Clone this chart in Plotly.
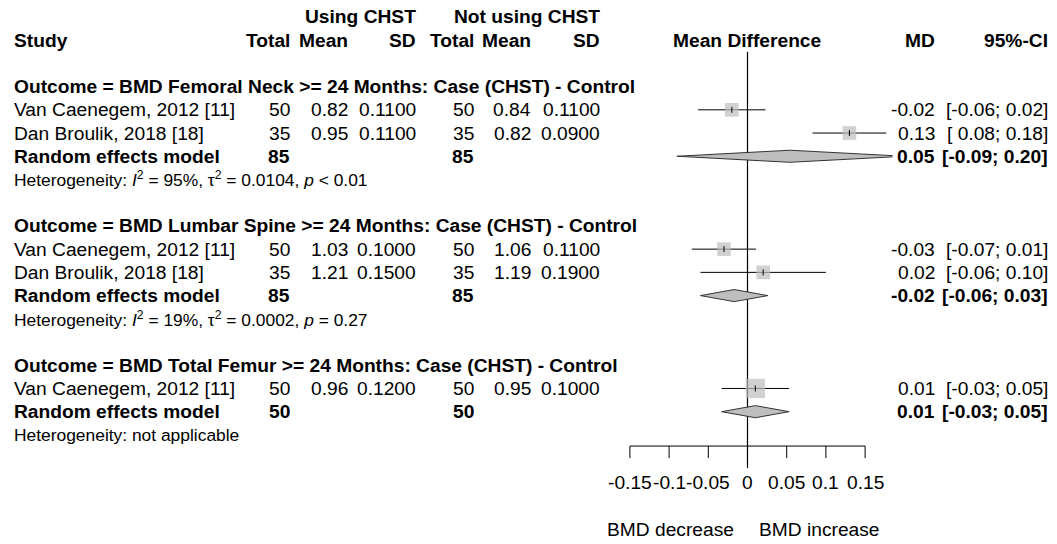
import math
import plotly.graph_objects as go

# ---------------- data ----------------
outcomes = ["BMD Femoral Neck", "BMD Lumbar Spine", "BMD Total Femur"]
study = ["Van Caenegem, 2012 [11]", "Dan Broulik, 2018 [18]",
         "Van Caenegem, 2012 [11]", "Dan Broulik, 2018 [18]",
         "Van Caenegem, 2012 [11]"]
group = [0, 0, 1, 1, 2]
n_e = [50, 35, 50, 35, 50]
mean_e = [0.82, 0.95, 1.03, 1.21, 0.96]
sd_e = [0.11, 0.11, 0.10, 0.15, 0.12]
n_c = [50, 35, 50, 35, 50]
mean_c = [0.84, 0.82, 1.06, 1.19, 0.95]
sd_c = [0.11, 0.09, 0.11, 0.19, 0.10]
md = [-0.02, 0.13, -0.03, 0.02, 0.01]
ci_lo = [-0.063, 0.083, -0.071, -0.060, -0.033]
ci_hi = [0.023, 0.177, 0.011, 0.100, 0.053]
weight = [50, 50, 50, 50, 100]

pooled_md = [0.054, -0.017, 0.01]
pooled_lo = [-0.090, -0.060, -0.033]
pooled_hi = [0.200, 0.026, 0.053]
pooled_ne = [85, 85, 50]
pooled_nc = [85, 85, 50]
het_I2 = [95, 19, None]
het_tau2 = [0.0104, 0.0002, None]
het_p = ["&lt; 0.01", "= 0.27", None]

tick_vals = [-0.15, -0.1, -0.05, 0, 0.05, 0.1, 0.15]
tick_text = ["-0.15", "-0.1", "-0.05", "0", "0.05", "0.1", "0.15"]
label_left = "BMD decrease"
label_right = "BMD increase"

# ---------------- layout geometry ----------------
W, H = 1057, 544
Y0, DY = 86.6, 23.22          # px of row 0, px per row
X0, XS = 747.5, 784.0         # px of MD=0, px per unit
XR = [-0.19, 0.185]
FONT = "Liberation Sans, Arial, sans-serif"
FS, FS_HET = 19.2, 17.4

# assign rows
hdr_row, st_row, pool_row, het_row = [], [None] * len(study), [], []
r = 0
for g in range(len(outcomes)):
    hdr_row.append(r); r += 1
    for i in range(len(study)):
        if group[i] == g:
            st_row[i] = r; r += 1
    pool_row.append(r); r += 1
    het_row.append(r); r += 1
    r += 1
last_row = het_row[-1]
axis_row = last_row + 0.48
tick_end = axis_row + 0.52
zero_top, zero_bot = -1.5, axis_row + 0.95
ticklab_row = axis_row + 1.57
lab_row = axis_row + 3.58

fig = go.Figure()
annotations = []


def ann(text, xpx, row, anchor="left", size=FS, xref="paper", xval=None):
    annotations.append(dict(
        text=text, x=(xpx / W) if xref == "paper" else xval, xref=xref,
        y=row, yref="y", xanchor=anchor, yanchor="middle", showarrow=False,
        font=dict(family=FONT, size=size, color="black")))


def b(t):
    return "<b>" + t + "</b>"


# column right edges (px)
C_STUDY = 12
C_TE, C_ME, C_SE = 292, 350, 418
C_TC, C_MC, C_SC = 476, 533, 602
C_MD, C_CI = 937, 1050

# headers
ann(b("Using CHST"), C_SE, -3, "right")
ann(b("Not using CHST"), C_SC, -3, "right")
ann(b("Study"), C_STUDY, -2, "left")
for txt, c in [("Total", C_TE), ("Mean", C_ME), ("SD", C_SE),
               ("Total", C_TC), ("Mean", C_MC), ("SD", C_SC),
               ("MD", C_MD), ("95%-CI", C_CI)]:
    ann(b(txt), c, -2, "right")
ann(b("Mean Difference"), X0, -2, "center")


def ci_txt(lo, hi):
    return "[%5.2f; %.2f]" % (lo, hi)


for g, name in enumerate(outcomes):
    ann(b("Outcome = %s >= 24 Months: Case (CHST) - Control" % name), C_STUDY, hdr_row[g])
    ann(b("Random effects model"), C_STUDY, pool_row[g])
    ann(b(str(pooled_ne[g])), C_TE, pool_row[g], "right")
    ann(b(str(pooled_nc[g])), C_TC, pool_row[g], "right")
    ann(b("%.2f" % pooled_md[g]), C_MD, pool_row[g], "right")
    ann(b(ci_txt(pooled_lo[g], pooled_hi[g])), C_CI, pool_row[g], "right")
    if het_I2[g] is None:
        ht = "Heterogeneity: not applicable"
    else:
        ht = ("Heterogeneity: <i>I</i><sup>2</sup> = %d%%, \u03c4<sup>2</sup> = %.4f, <i>p</i> %s"
              % (het_I2[g], het_tau2[g], het_p[g]))
    ann(ht, C_STUDY, het_row[g], "left", FS_HET)

for i in range(len(study)):
    rr = st_row[i]
    ann(study[i], C_STUDY, rr)
    ann(str(n_e[i]), C_TE, rr, "right")
    ann("%.2f" % mean_e[i], C_ME, rr, "right")
    ann("%.4f" % sd_e[i], C_SE, rr, "right")
    ann(str(n_c[i]), C_TC, rr, "right")
    ann("%.2f" % mean_c[i], C_MC, rr, "right")
    ann("%.4f" % sd_c[i], C_SC, rr, "right")
    ann("%.2f" % md[i], C_MD, rr, "right")
    ann(ci_txt(ci_lo[i], ci_hi[i]), C_CI, rr, "right")

# ---------------- forest marks ----------------
common = dict(hoverinfo="skip", showlegend=False)
# reference line at 0
fig.add_trace(go.Scatter(x=[0, 0], y=[zero_top, zero_bot], mode="lines",
                         line=dict(color="black", width=1.2), **common))
# CI lines
xs, ys = [], []
for i in range(len(study)):
    xs += [ci_lo[i], ci_hi[i], None]
    ys += [st_row[i], st_row[i], None]
fig.add_trace(go.Scatter(x=xs, y=ys, mode="lines",
                         line=dict(color="black", width=1), **common))
# squares
fig.add_trace(go.Scatter(
    x=md, y=st_row, mode="markers",
    marker=dict(symbol="square", color="#BEBEBE",
                size=[19.3 * math.sqrt(w / 100) for w in weight], line=dict(width=0)),
    cliponaxis=False, **common))
# inner estimate ticks
xs, ys = [], []
for i in range(len(study)):
    xs += [md[i], md[i], None]
    ys += [st_row[i] - 0.13, st_row[i] + 0.13, None]
fig.add_trace(go.Scatter(x=xs, y=ys, mode="lines",
                         line=dict(color="black", width=1), **common))
# diamonds
for g in range(len(outcomes)):
    rr = pool_row[g]
    h = 0.26
    fig.add_trace(go.Scatter(
        x=[pooled_lo[g], pooled_md[g], pooled_hi[g], pooled_md[g], pooled_lo[g]],
        y=[rr, rr - h, rr, rr + h, rr], mode="lines", fill="toself",
        fillcolor="#BEBEBE", line=dict(color="#333333", width=1), **common))
# axis line and ticks
xs, ys = [tick_vals[0], tick_vals[-1], None], [axis_row, axis_row, None]
for v in tick_vals:
    xs += [v, v, None]
    ys += [axis_row, tick_end, None]
fig.add_trace(go.Scatter(x=xs, y=ys, mode="lines",
                         line=dict(color="black", width=1), **common))
for v, t in zip(tick_vals, tick_text):
    ann(t, 0, ticklab_row, "center", FS, xref="x", xval=v)
ann(label_left, X0 - 12, lab_row, "right")
ann(label_right, X0 + 9, lab_row, "left")

fig.update_layout(
    width=W, height=H, margin=dict(l=0, r=0, t=0, b=0),
    paper_bgcolor="white", plot_bgcolor="white",
    xaxis=dict(range=XR, domain=[(X0 + XR[0] * XS) / W, (X0 + XR[1] * XS) / W],
               visible=False, fixedrange=True),
    yaxis=dict(range=[(H - Y0) / DY, -Y0 / DY], domain=[0, 1],
               visible=False, fixedrange=True),
    annotations=annotations,
    font=dict(family=FONT, size=FS, color="black"),
)

fig.write_html("out.html")
